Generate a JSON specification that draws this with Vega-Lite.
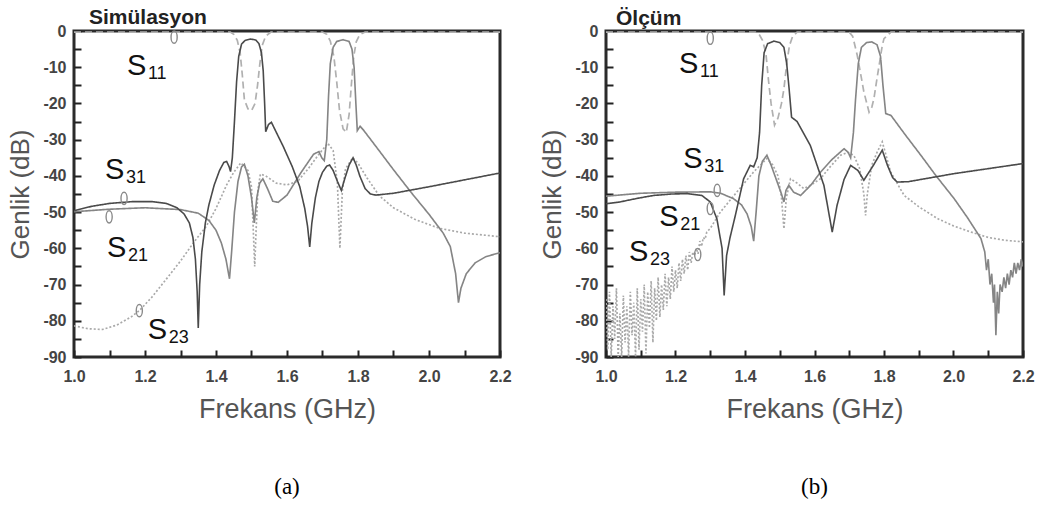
{
"$schema":"https://vega.github.io/schema/vega-lite/v6.json",
"padding":{"left":6,"top":5,"right":0,"bottom":0},
"spacing":25,
"datasets":{
"curves":[
{"p":"a","s":"S11","f":1.0,"db":-0.3},{"p":"a","s":"S11","f":1.44,"db":-0.3},{"p":"a","s":"S11","f":1.45,"db":-0.9},{"p":"a","s":"S11","f":1.46,"db":-2.6},{"p":"a","s":"S11","f":1.468,"db":-6},{"p":"a","s":"S11","f":1.474,"db":-12},{"p":"a","s":"S11","f":1.48,"db":-19},{"p":"a","s":"S11","f":1.49,"db":-21.5},{"p":"a","s":"S11","f":1.5,"db":-22},{"p":"a","s":"S11","f":1.51,"db":-20},{"p":"a","s":"S11","f":1.517,"db":-15},{"p":"a","s":"S11","f":1.523,"db":-9.5},{"p":"a","s":"S11","f":1.53,"db":-4},{"p":"a","s":"S11","f":1.54,"db":-1.4},{"p":"a","s":"S11","f":1.555,"db":-0.3},{"p":"a","s":"S11","f":1.7,"db":-0.3},{"p":"a","s":"S11","f":1.712,"db":-0.9},{"p":"a","s":"S11","f":1.722,"db":-2.8},{"p":"a","s":"S11","f":1.732,"db":-7},{"p":"a","s":"S11","f":1.74,"db":-14},{"p":"a","s":"S11","f":1.748,"db":-22},{"p":"a","s":"S11","f":1.758,"db":-27},{"p":"a","s":"S11","f":1.767,"db":-28},{"p":"a","s":"S11","f":1.775,"db":-23},{"p":"a","s":"S11","f":1.782,"db":-14},{"p":"a","s":"S11","f":1.788,"db":-7},{"p":"a","s":"S11","f":1.795,"db":-3},{"p":"a","s":"S11","f":1.805,"db":-1},{"p":"a","s":"S11","f":1.82,"db":-0.3},{"p":"a","s":"S11","f":2.2,"db":-0.3},
{"p":"a","s":"S23","f":1.0,"db":-81.4},{"p":"a","s":"S23","f":1.04,"db":-82.2},{"p":"a","s":"S23","f":1.08,"db":-82.4},{"p":"a","s":"S23","f":1.12,"db":-81.2},{"p":"a","s":"S23","f":1.16,"db":-79},{"p":"a","s":"S23","f":1.184,"db":-77.2},{"p":"a","s":"S23","f":1.22,"db":-73.4},{"p":"a","s":"S23","f":1.26,"db":-68.5},{"p":"a","s":"S23","f":1.3,"db":-63.5},{"p":"a","s":"S23","f":1.34,"db":-58},{"p":"a","s":"S23","f":1.372,"db":-54},{"p":"a","s":"S23","f":1.4,"db":-49},{"p":"a","s":"S23","f":1.43,"db":-42.5},{"p":"a","s":"S23","f":1.45,"db":-39},{"p":"a","s":"S23","f":1.47,"db":-36.4},{"p":"a","s":"S23","f":1.49,"db":-38.5},{"p":"a","s":"S23","f":1.5,"db":-43},{"p":"a","s":"S23","f":1.505,"db":-55},{"p":"a","s":"S23","f":1.509,"db":-65},{"p":"a","s":"S23","f":1.513,"db":-55},{"p":"a","s":"S23","f":1.518,"db":-44},{"p":"a","s":"S23","f":1.525,"db":-39.5},{"p":"a","s":"S23","f":1.54,"db":-40},{"p":"a","s":"S23","f":1.57,"db":-42},{"p":"a","s":"S23","f":1.6,"db":-42.5},{"p":"a","s":"S23","f":1.63,"db":-41.5},{"p":"a","s":"S23","f":1.66,"db":-38},{"p":"a","s":"S23","f":1.69,"db":-34},{"p":"a","s":"S23","f":1.715,"db":-31},{"p":"a","s":"S23","f":1.73,"db":-33},{"p":"a","s":"S23","f":1.742,"db":-42},{"p":"a","s":"S23","f":1.749,"db":-60},{"p":"a","s":"S23","f":1.756,"db":-44},{"p":"a","s":"S23","f":1.765,"db":-38},{"p":"a","s":"S23","f":1.785,"db":-35},{"p":"a","s":"S23","f":1.8,"db":-36.5},{"p":"a","s":"S23","f":1.825,"db":-40.5},{"p":"a","s":"S23","f":1.86,"db":-45.5},{"p":"a","s":"S23","f":1.9,"db":-48.8},{"p":"a","s":"S23","f":1.96,"db":-52},{"p":"a","s":"S23","f":2.03,"db":-54.5},{"p":"a","s":"S23","f":2.1,"db":-55.8},{"p":"a","s":"S23","f":2.2,"db":-56.8},
{"p":"a","s":"S21","f":1.0,"db":-49.9},{"p":"a","s":"S21","f":1.1,"db":-49.2},{"p":"a","s":"S21","f":1.2,"db":-48.8},{"p":"a","s":"S21","f":1.3,"db":-49.3},{"p":"a","s":"S21","f":1.35,"db":-50.3},{"p":"a","s":"S21","f":1.38,"db":-52.3},{"p":"a","s":"S21","f":1.4,"db":-55},{"p":"a","s":"S21","f":1.415,"db":-58.5},{"p":"a","s":"S21","f":1.428,"db":-63},{"p":"a","s":"S21","f":1.438,"db":-68.4},{"p":"a","s":"S21","f":1.444,"db":-61},{"p":"a","s":"S21","f":1.452,"db":-50},{"p":"a","s":"S21","f":1.462,"db":-41.5},{"p":"a","s":"S21","f":1.472,"db":-37.5},{"p":"a","s":"S21","f":1.48,"db":-36.8},{"p":"a","s":"S21","f":1.49,"db":-40},{"p":"a","s":"S21","f":1.5,"db":-46},{"p":"a","s":"S21","f":1.508,"db":-53},{"p":"a","s":"S21","f":1.515,"db":-46},{"p":"a","s":"S21","f":1.523,"db":-42},{"p":"a","s":"S21","f":1.532,"db":-40.8},{"p":"a","s":"S21","f":1.545,"db":-43.5},{"p":"a","s":"S21","f":1.56,"db":-47},{"p":"a","s":"S21","f":1.575,"db":-47.3},{"p":"a","s":"S21","f":1.6,"db":-45.3},{"p":"a","s":"S21","f":1.64,"db":-39},{"p":"a","s":"S21","f":1.675,"db":-34},{"p":"a","s":"S21","f":1.69,"db":-33.3},{"p":"a","s":"S21","f":1.698,"db":-35},{"p":"a","s":"S21","f":1.705,"db":-35.8},{"p":"a","s":"S21","f":1.712,"db":-30},{"p":"a","s":"S21","f":1.717,"db":-18},{"p":"a","s":"S21","f":1.722,"db":-9},{"p":"a","s":"S21","f":1.73,"db":-4.5},{"p":"a","s":"S21","f":1.74,"db":-2.9},{"p":"a","s":"S21","f":1.758,"db":-2.4},{"p":"a","s":"S21","f":1.775,"db":-2.9},{"p":"a","s":"S21","f":1.783,"db":-5},{"p":"a","s":"S21","f":1.789,"db":-10},{"p":"a","s":"S21","f":1.794,"db":-20},{"p":"a","s":"S21","f":1.798,"db":-27.5},{"p":"a","s":"S21","f":1.806,"db":-26.3},{"p":"a","s":"S21","f":1.815,"db":-27.3},{"p":"a","s":"S21","f":1.85,"db":-31.8},{"p":"a","s":"S21","f":1.9,"db":-38.3},{"p":"a","s":"S21","f":1.95,"db":-44.6},{"p":"a","s":"S21","f":2.0,"db":-50.6},{"p":"a","s":"S21","f":2.04,"db":-55.8},{"p":"a","s":"S21","f":2.06,"db":-59.5},{"p":"a","s":"S21","f":2.075,"db":-67},{"p":"a","s":"S21","f":2.083,"db":-75},{"p":"a","s":"S21","f":2.09,"db":-71},{"p":"a","s":"S21","f":2.105,"db":-67},{"p":"a","s":"S21","f":2.13,"db":-64},{"p":"a","s":"S21","f":2.16,"db":-62.3},{"p":"a","s":"S21","f":2.2,"db":-61.2},
{"p":"a","s":"S31","f":1.0,"db":-49.6},{"p":"a","s":"S31","f":1.05,"db":-48.4},{"p":"a","s":"S31","f":1.1,"db":-47.6},{"p":"a","s":"S31","f":1.165,"db":-47.1},{"p":"a","s":"S31","f":1.22,"db":-47.1},{"p":"a","s":"S31","f":1.26,"db":-47.6},{"p":"a","s":"S31","f":1.29,"db":-48.8},{"p":"a","s":"S31","f":1.31,"db":-50.5},{"p":"a","s":"S31","f":1.325,"db":-53},{"p":"a","s":"S31","f":1.335,"db":-57},{"p":"a","s":"S31","f":1.342,"db":-63},{"p":"a","s":"S31","f":1.347,"db":-72},{"p":"a","s":"S31","f":1.35,"db":-82},{"p":"a","s":"S31","f":1.354,"db":-70},{"p":"a","s":"S31","f":1.36,"db":-61},{"p":"a","s":"S31","f":1.37,"db":-53},{"p":"a","s":"S31","f":1.38,"db":-48},{"p":"a","s":"S31","f":1.395,"db":-42.5},{"p":"a","s":"S31","f":1.41,"db":-38.5},{"p":"a","s":"S31","f":1.422,"db":-36.3},{"p":"a","s":"S31","f":1.43,"db":-36},{"p":"a","s":"S31","f":1.437,"db":-37.5},{"p":"a","s":"S31","f":1.441,"db":-38.8},{"p":"a","s":"S31","f":1.446,"db":-35},{"p":"a","s":"S31","f":1.452,"db":-25},{"p":"a","s":"S31","f":1.458,"db":-14},{"p":"a","s":"S31","f":1.464,"db":-7},{"p":"a","s":"S31","f":1.472,"db":-3.6},{"p":"a","s":"S31","f":1.482,"db":-2.6},{"p":"a","s":"S31","f":1.497,"db":-2.2},{"p":"a","s":"S31","f":1.512,"db":-2.5},{"p":"a","s":"S31","f":1.521,"db":-3.5},{"p":"a","s":"S31","f":1.528,"db":-6},{"p":"a","s":"S31","f":1.533,"db":-11},{"p":"a","s":"S31","f":1.537,"db":-20},{"p":"a","s":"S31","f":1.54,"db":-27.8},{"p":"a","s":"S31","f":1.548,"db":-25.8},{"p":"a","s":"S31","f":1.556,"db":-25.2},{"p":"a","s":"S31","f":1.57,"db":-28},{"p":"a","s":"S31","f":1.59,"db":-32},{"p":"a","s":"S31","f":1.615,"db":-37.5},{"p":"a","s":"S31","f":1.636,"db":-43},{"p":"a","s":"S31","f":1.65,"db":-49},{"p":"a","s":"S31","f":1.658,"db":-54},{"p":"a","s":"S31","f":1.664,"db":-59.6},{"p":"a","s":"S31","f":1.67,"db":-53},{"p":"a","s":"S31","f":1.68,"db":-46},{"p":"a","s":"S31","f":1.69,"db":-41.5},{"p":"a","s":"S31","f":1.7,"db":-39},{"p":"a","s":"S31","f":1.712,"db":-37.3},{"p":"a","s":"S31","f":1.72,"db":-37},{"p":"a","s":"S31","f":1.73,"db":-38.5},{"p":"a","s":"S31","f":1.742,"db":-41.5},{"p":"a","s":"S31","f":1.753,"db":-44},{"p":"a","s":"S31","f":1.762,"db":-41},{"p":"a","s":"S31","f":1.775,"db":-37},{"p":"a","s":"S31","f":1.786,"db":-35},{"p":"a","s":"S31","f":1.795,"db":-37},{"p":"a","s":"S31","f":1.805,"db":-40},{"p":"a","s":"S31","f":1.82,"db":-43.5},{"p":"a","s":"S31","f":1.835,"db":-45},{"p":"a","s":"S31","f":1.85,"db":-45.3},{"p":"a","s":"S31","f":1.9,"db":-44.8},{"p":"a","s":"S31","f":2.0,"db":-43},{"p":"a","s":"S31","f":2.1,"db":-41.1},{"p":"a","s":"S31","f":2.2,"db":-39.2},
{"p":"b","s":"S11","f":1.0,"db":-0.3},{"p":"b","s":"S11","f":1.43,"db":-0.3},{"p":"b","s":"S11","f":1.44,"db":-0.8},{"p":"b","s":"S11","f":1.45,"db":-2.5},{"p":"b","s":"S11","f":1.46,"db":-6},{"p":"b","s":"S11","f":1.468,"db":-14},{"p":"b","s":"S11","f":1.475,"db":-20},{"p":"b","s":"S11","f":1.485,"db":-26},{"p":"b","s":"S11","f":1.495,"db":-24},{"p":"b","s":"S11","f":1.505,"db":-20},{"p":"b","s":"S11","f":1.512,"db":-16},{"p":"b","s":"S11","f":1.52,"db":-9},{"p":"b","s":"S11","f":1.528,"db":-4},{"p":"b","s":"S11","f":1.537,"db":-1.5},{"p":"b","s":"S11","f":1.55,"db":-0.3},{"p":"b","s":"S11","f":1.7,"db":-0.3},{"p":"b","s":"S11","f":1.71,"db":-1.5},{"p":"b","s":"S11","f":1.723,"db":-6.7},{"p":"b","s":"S11","f":1.735,"db":-13},{"p":"b","s":"S11","f":1.742,"db":-16.8},{"p":"b","s":"S11","f":1.757,"db":-22.4},{"p":"b","s":"S11","f":1.765,"db":-21},{"p":"b","s":"S11","f":1.771,"db":-18.7},{"p":"b","s":"S11","f":1.78,"db":-13},{"p":"b","s":"S11","f":1.786,"db":-9.5},{"p":"b","s":"S11","f":1.795,"db":-4},{"p":"b","s":"S11","f":1.8,"db":-2.1},{"p":"b","s":"S11","f":1.82,"db":-0.3},{"p":"b","s":"S11","f":2.2,"db":-0.3},
{"p":"b","s":"S23","f":1.0,"db":-74},{"p":"b","s":"S23","f":1.005,"db":-88},{"p":"b","s":"S23","f":1.01,"db":-72},{"p":"b","s":"S23","f":1.015,"db":-90},{"p":"b","s":"S23","f":1.02,"db":-76},{"p":"b","s":"S23","f":1.025,"db":-85},{"p":"b","s":"S23","f":1.03,"db":-71},{"p":"b","s":"S23","f":1.035,"db":-90},{"p":"b","s":"S23","f":1.04,"db":-78},{"p":"b","s":"S23","f":1.045,"db":-90},{"p":"b","s":"S23","f":1.05,"db":-73},{"p":"b","s":"S23","f":1.055,"db":-86},{"p":"b","s":"S23","f":1.06,"db":-76},{"p":"b","s":"S23","f":1.065,"db":-90},{"p":"b","s":"S23","f":1.07,"db":-72},{"p":"b","s":"S23","f":1.075,"db":-84},{"p":"b","s":"S23","f":1.08,"db":-75},{"p":"b","s":"S23","f":1.085,"db":-90},{"p":"b","s":"S23","f":1.09,"db":-71},{"p":"b","s":"S23","f":1.095,"db":-88},{"p":"b","s":"S23","f":1.1,"db":-74},{"p":"b","s":"S23","f":1.105,"db":-83},{"p":"b","s":"S23","f":1.11,"db":-70},{"p":"b","s":"S23","f":1.115,"db":-89},{"p":"b","s":"S23","f":1.12,"db":-72},{"p":"b","s":"S23","f":1.125,"db":-82},{"p":"b","s":"S23","f":1.13,"db":-69},{"p":"b","s":"S23","f":1.135,"db":-86},{"p":"b","s":"S23","f":1.14,"db":-71},{"p":"b","s":"S23","f":1.145,"db":-80},{"p":"b","s":"S23","f":1.15,"db":-68},{"p":"b","s":"S23","f":1.155,"db":-79},{"p":"b","s":"S23","f":1.16,"db":-70},{"p":"b","s":"S23","f":1.165,"db":-77},{"p":"b","s":"S23","f":1.17,"db":-67},{"p":"b","s":"S23","f":1.175,"db":-76},{"p":"b","s":"S23","f":1.18,"db":-68},{"p":"b","s":"S23","f":1.185,"db":-74},{"p":"b","s":"S23","f":1.19,"db":-65},{"p":"b","s":"S23","f":1.195,"db":-72},{"p":"b","s":"S23","f":1.2,"db":-66},{"p":"b","s":"S23","f":1.205,"db":-71},{"p":"b","s":"S23","f":1.21,"db":-64},{"p":"b","s":"S23","f":1.215,"db":-69},{"p":"b","s":"S23","f":1.22,"db":-63},{"p":"b","s":"S23","f":1.225,"db":-67},{"p":"b","s":"S23","f":1.23,"db":-62},{"p":"b","s":"S23","f":1.235,"db":-66},{"p":"b","s":"S23","f":1.24,"db":-61},{"p":"b","s":"S23","f":1.245,"db":-64},{"p":"b","s":"S23","f":1.25,"db":-61},{"p":"b","s":"S23","f":1.255,"db":-62},{"p":"b","s":"S23","f":1.26,"db":-60},{"p":"b","s":"S23","f":1.265,"db":-61.5},{"p":"b","s":"S23","f":1.27,"db":-58},{"p":"b","s":"S23","f":1.275,"db":-59.5},{"p":"b","s":"S23","f":1.28,"db":-57},{"p":"b","s":"S23","f":1.285,"db":-57.5},{"p":"b","s":"S23","f":1.29,"db":-55.5},{"p":"b","s":"S23","f":1.3,"db":-54.5},{"p":"b","s":"S23","f":1.329,"db":-50},{"p":"b","s":"S23","f":1.377,"db":-44.4},{"p":"b","s":"S23","f":1.425,"db":-38.9},{"p":"b","s":"S23","f":1.463,"db":-35.2},{"p":"b","s":"S23","f":1.48,"db":-37},{"p":"b","s":"S23","f":1.495,"db":-40},{"p":"b","s":"S23","f":1.505,"db":-46},{"p":"b","s":"S23","f":1.512,"db":-54.6},{"p":"b","s":"S23","f":1.519,"db":-46},{"p":"b","s":"S23","f":1.531,"db":-40.8},{"p":"b","s":"S23","f":1.55,"db":-42},{"p":"b","s":"S23","f":1.569,"db":-43.5},{"p":"b","s":"S23","f":1.59,"db":-42.5},{"p":"b","s":"S23","f":1.617,"db":-40.8},{"p":"b","s":"S23","f":1.645,"db":-37.5},{"p":"b","s":"S23","f":1.675,"db":-34.3},{"p":"b","s":"S23","f":1.695,"db":-33.5},{"p":"b","s":"S23","f":1.713,"db":-34.3},{"p":"b","s":"S23","f":1.73,"db":-38},{"p":"b","s":"S23","f":1.742,"db":-45},{"p":"b","s":"S23","f":1.747,"db":-50.9},{"p":"b","s":"S23","f":1.752,"db":-45},{"p":"b","s":"S23","f":1.765,"db":-37},{"p":"b","s":"S23","f":1.78,"db":-33.5},{"p":"b","s":"S23","f":1.795,"db":-30.6},{"p":"b","s":"S23","f":1.805,"db":-34},{"p":"b","s":"S23","f":1.819,"db":-38.9},{"p":"b","s":"S23","f":1.858,"db":-45.4},{"p":"b","s":"S23","f":1.9,"db":-48.5},{"p":"b","s":"S23","f":1.954,"db":-51.8},{"p":"b","s":"S23","f":2.0,"db":-53.8},{"p":"b","s":"S23","f":2.05,"db":-55.5},{"p":"b","s":"S23","f":2.1,"db":-57},{"p":"b","s":"S23","f":2.15,"db":-57.8},{"p":"b","s":"S23","f":2.2,"db":-58.2},
{"p":"b","s":"S21","f":1.0,"db":-45.6},{"p":"b","s":"S21","f":1.05,"db":-45.2},{"p":"b","s":"S21","f":1.1,"db":-44.8},{"p":"b","s":"S21","f":1.2,"db":-44.5},{"p":"b","s":"S21","f":1.3,"db":-44.4},{"p":"b","s":"S21","f":1.33,"db":-44.8},{"p":"b","s":"S21","f":1.367,"db":-46.3},{"p":"b","s":"S21","f":1.39,"db":-48},{"p":"b","s":"S21","f":1.406,"db":-50.5},{"p":"b","s":"S21","f":1.418,"db":-54},{"p":"b","s":"S21","f":1.425,"db":-58},{"p":"b","s":"S21","f":1.432,"db":-50},{"p":"b","s":"S21","f":1.44,"db":-40},{"p":"b","s":"S21","f":1.45,"db":-36},{"p":"b","s":"S21","f":1.463,"db":-34.3},{"p":"b","s":"S21","f":1.475,"db":-37},{"p":"b","s":"S21","f":1.49,"db":-41},{"p":"b","s":"S21","f":1.505,"db":-45},{"p":"b","s":"S21","f":1.512,"db":-47.2},{"p":"b","s":"S21","f":1.518,"db":-44},{"p":"b","s":"S21","f":1.526,"db":-42.6},{"p":"b","s":"S21","f":1.54,"db":-44.5},{"p":"b","s":"S21","f":1.56,"db":-45.4},{"p":"b","s":"S21","f":1.59,"db":-42.5},{"p":"b","s":"S21","f":1.617,"db":-39},{"p":"b","s":"S21","f":1.65,"db":-35.5},{"p":"b","s":"S21","f":1.685,"db":-32.5},{"p":"b","s":"S21","f":1.697,"db":-33.5},{"p":"b","s":"S21","f":1.704,"db":-35},{"p":"b","s":"S21","f":1.712,"db":-28},{"p":"b","s":"S21","f":1.718,"db":-19},{"p":"b","s":"S21","f":1.726,"db":-9},{"p":"b","s":"S21","f":1.735,"db":-4.5},{"p":"b","s":"S21","f":1.75,"db":-3.2},{"p":"b","s":"S21","f":1.765,"db":-3},{"p":"b","s":"S21","f":1.78,"db":-3.8},{"p":"b","s":"S21","f":1.79,"db":-7},{"p":"b","s":"S21","f":1.797,"db":-15},{"p":"b","s":"S21","f":1.805,"db":-22.8},{"p":"b","s":"S21","f":1.82,"db":-23.3},{"p":"b","s":"S21","f":1.86,"db":-28.5},{"p":"b","s":"S21","f":1.906,"db":-34.3},{"p":"b","s":"S21","f":1.95,"db":-40},{"p":"b","s":"S21","f":2.002,"db":-46.3},{"p":"b","s":"S21","f":2.04,"db":-51.5},{"p":"b","s":"S21","f":2.079,"db":-57.3},{"p":"b","s":"S21","f":2.09,"db":-61},{"p":"b","s":"S21","f":2.095,"db":-66},{"p":"b","s":"S21","f":2.1,"db":-63},{"p":"b","s":"S21","f":2.105,"db":-70},{"p":"b","s":"S21","f":2.11,"db":-67},{"p":"b","s":"S21","f":2.115,"db":-75},{"p":"b","s":"S21","f":2.118,"db":-70},{"p":"b","s":"S21","f":2.122,"db":-84},{"p":"b","s":"S21","f":2.126,"db":-72},{"p":"b","s":"S21","f":2.13,"db":-78},{"p":"b","s":"S21","f":2.134,"db":-70},{"p":"b","s":"S21","f":2.14,"db":-72},{"p":"b","s":"S21","f":2.145,"db":-68},{"p":"b","s":"S21","f":2.15,"db":-71},{"p":"b","s":"S21","f":2.155,"db":-67},{"p":"b","s":"S21","f":2.16,"db":-70},{"p":"b","s":"S21","f":2.165,"db":-66},{"p":"b","s":"S21","f":2.17,"db":-68},{"p":"b","s":"S21","f":2.175,"db":-64},{"p":"b","s":"S21","f":2.18,"db":-67},{"p":"b","s":"S21","f":2.185,"db":-64},{"p":"b","s":"S21","f":2.19,"db":-66},{"p":"b","s":"S21","f":2.195,"db":-63},{"p":"b","s":"S21","f":2.2,"db":-65},
{"p":"b","s":"S31","f":1.0,"db":-47.7},{"p":"b","s":"S31","f":1.04,"db":-47.2},{"p":"b","s":"S31","f":1.09,"db":-46.2},{"p":"b","s":"S31","f":1.137,"db":-45.4},{"p":"b","s":"S31","f":1.19,"db":-45},{"p":"b","s":"S31","f":1.233,"db":-44.9},{"p":"b","s":"S31","f":1.276,"db":-45.4},{"p":"b","s":"S31","f":1.3,"db":-47.2},{"p":"b","s":"S31","f":1.319,"db":-51.8},{"p":"b","s":"S31","f":1.334,"db":-60},{"p":"b","s":"S31","f":1.34,"db":-73},{"p":"b","s":"S31","f":1.347,"db":-62},{"p":"b","s":"S31","f":1.357,"db":-57},{"p":"b","s":"S31","f":1.372,"db":-51},{"p":"b","s":"S31","f":1.396,"db":-40.8},{"p":"b","s":"S31","f":1.415,"db":-37.1},{"p":"b","s":"S31","f":1.425,"db":-37.5},{"p":"b","s":"S31","f":1.435,"db":-35},{"p":"b","s":"S31","f":1.442,"db":-28},{"p":"b","s":"S31","f":1.448,"db":-15},{"p":"b","s":"S31","f":1.455,"db":-6},{"p":"b","s":"S31","f":1.465,"db":-3.5},{"p":"b","s":"S31","f":1.483,"db":-2.8},{"p":"b","s":"S31","f":1.5,"db":-3.2},{"p":"b","s":"S31","f":1.512,"db":-4.5},{"p":"b","s":"S31","f":1.52,"db":-9},{"p":"b","s":"S31","f":1.527,"db":-16},{"p":"b","s":"S31","f":1.534,"db":-23.8},{"p":"b","s":"S31","f":1.55,"db":-25},{"p":"b","s":"S31","f":1.588,"db":-31.6},{"p":"b","s":"S31","f":1.627,"db":-42.6},{"p":"b","s":"S31","f":1.651,"db":-55.5},{"p":"b","s":"S31","f":1.665,"db":-48.1},{"p":"b","s":"S31","f":1.685,"db":-41},{"p":"b","s":"S31","f":1.704,"db":-37.1},{"p":"b","s":"S31","f":1.725,"db":-38.5},{"p":"b","s":"S31","f":1.742,"db":-41.2},{"p":"b","s":"S31","f":1.77,"db":-37},{"p":"b","s":"S31","f":1.795,"db":-32.9},{"p":"b","s":"S31","f":1.81,"db":-37.1},{"p":"b","s":"S31","f":1.825,"db":-40.5},{"p":"b","s":"S31","f":1.838,"db":-41.7},{"p":"b","s":"S31","f":1.87,"db":-41.6},{"p":"b","s":"S31","f":2.0,"db":-39.4},{"p":"b","s":"S31","f":2.2,"db":-36.6}
],
"markers":[
{"p":"a","s":"S11","f":1.282,"db":-1.7},{"p":"a","s":"S31","f":1.141,"db":-46.2},{"p":"a","s":"S21","f":1.099,"db":-51.3},{"p":"a","s":"S23","f":1.184,"db":-77.2},
{"p":"b","s":"S11","f":1.3,"db":-2},{"p":"b","s":"S31","f":1.32,"db":-44},{"p":"b","s":"S21","f":1.3,"db":-49},{"p":"b","s":"S23","f":1.264,"db":-61.7}
],
"labels":[
{"p":"a","main":"S","sub":"11","f":1.149,"db":-12.1},{"p":"a","main":"S","sub":"31","f":1.087,"db":-40.9},{"p":"a","main":"S","sub":"21","f":1.093,"db":-62.4},{"p":"a","main":"S","sub":"23","f":1.208,"db":-85},
{"p":"b","main":"S","sub":"11","f":1.21,"db":-11.6},{"p":"b","main":"S","sub":"31","f":1.222,"db":-37.9},{"p":"b","main":"S","sub":"21","f":1.153,"db":-53.7},{"p":"b","main":"S","sub":"23","f":1.066,"db":-63.4}
],
"heads":[
{"p":"a","t":"Simülasyon","f":1.0,"db":0},{"p":"b","t":"Ölçüm","f":1.0,"db":0}
]
},
"hconcat":[
{
"width":426,"height":326,
"title":{"text":"(a)","orient":"bottom","frame":"group","anchor":"middle","font":"Liberation Serif","fontSize":23,"fontWeight":"normal","color":"#000","offset":54},
"encoding":{
"x":{"field":"f","type":"quantitative","scale":{"domain":[1,2.2],"nice":false,"zero":false},"axis":{"values":[1,1.1,1.2,1.3,1.4,1.5,1.6,1.7,1.8,1.9,2,2.1,2.2],"labelExpr":"round(datum.value*10)%2==0 ? format(datum.value,'.1f') : ''","title":"Frekans (GHz)"}},
"y":{"field":"db","type":"quantitative","scale":{"domain":[-90,0],"nice":false,"zero":false},"axis":{"values":[-90,-85,-80,-75,-70,-65,-60,-55,-50,-45,-40,-35,-30,-25,-20,-15,-10,-5,0],"labelExpr":"datum.value%10==0 ? toString(datum.value) : ''","title":"Genlik (dB)"}}
},
"layer":[
{"data":{"name":"curves"},"transform":[{"filter":"datum.p=='a'"}],"mark":{"type":"line","clip":true},
"encoding":{"color":{"field":"s","type":"nominal","scale":{"domain":["S11","S23","S21","S31"],"range":["#b0b0b0","#a9a9a9","#858585","#4a4a4a"]},"legend":null},
"strokeDash":{"field":"s","type":"nominal","scale":{"domain":["S11","S23","S21","S31"],"range":[[7,4],[2,2],[1,0],[1,0]]},"legend":null},
"strokeWidth":{"field":"s","type":"ordinal","scale":{"domain":["S11","S23","S21","S31"],"range":[1.7,1.6,1.9,2.8]},"legend":null}}},
{"data":{"name":"markers"},"transform":[{"filter":"datum.p=='a'"}],"mark":{"type":"point","shape":"M -0.5 0 A 0.5 1 0 1 1 0.5 0 A 0.5 1 0 1 1 -0.5 0 Z","size":150,"filled":false,"stroke":"#8a8a8a","strokeWidth":1.4,"opacity":1}},
{"data":{"name":"labels"},"transform":[{"filter":"datum.p=='a'"}],"mark":{"type":"text","align":"left","baseline":"alphabetic","fontSize":29,"color":"#111"},"encoding":{"text":{"field":"main"}}},
{"data":{"name":"labels"},"transform":[{"filter":"datum.p=='a'"}],"mark":{"type":"text","align":"left","baseline":"alphabetic","fontSize":18,"dx":21,"dy":4,"color":"#111"},"encoding":{"text":{"field":"sub"}}},
{"data":{"name":"heads"},"transform":[{"filter":"datum.p=='a'"}],"mark":{"type":"text","align":"left","baseline":"alphabetic","fontSize":21,"fontWeight":"bold","dx":15,"dy":-7,"color":"#222"},"encoding":{"text":{"field":"t"}}}
]
},
{
"width":417,"height":326,
"title":{"text":"(b)","orient":"bottom","frame":"group","anchor":"middle","font":"Liberation Serif","fontSize":23,"fontWeight":"normal","color":"#000","offset":54},
"encoding":{
"x":{"field":"f","type":"quantitative","scale":{"domain":[1,2.2],"nice":false,"zero":false},"axis":{"values":[1,1.1,1.2,1.3,1.4,1.5,1.6,1.7,1.8,1.9,2,2.1,2.2],"labelExpr":"round(datum.value*10)%2==0 ? format(datum.value,'.1f') : ''","title":"Frekans (GHz)"}},
"y":{"field":"db","type":"quantitative","scale":{"domain":[-90,0],"nice":false,"zero":false},"axis":{"values":[-90,-85,-80,-75,-70,-65,-60,-55,-50,-45,-40,-35,-30,-25,-20,-15,-10,-5,0],"labelExpr":"datum.value%10==0 ? toString(datum.value) : ''","title":"Genlik (dB)"}}
},
"layer":[
{"data":{"name":"curves"},"transform":[{"filter":"datum.p=='b'"}],"mark":{"type":"line","clip":true},
"encoding":{"color":{"field":"s","type":"nominal","scale":{"domain":["S11","S23","S21","S31"],"range":["#b0b0b0","#a9a9a9","#858585","#4a4a4a"]},"legend":null},
"strokeDash":{"field":"s","type":"nominal","scale":{"domain":["S11","S23","S21","S31"],"range":[[7,4],[2,2],[1,0],[1,0]]},"legend":null},
"strokeWidth":{"field":"s","type":"ordinal","scale":{"domain":["S11","S23","S21","S31"],"range":[1.7,1.6,1.9,2.8]},"legend":null}}},
{"data":{"name":"markers"},"transform":[{"filter":"datum.p=='b'"}],"mark":{"type":"point","shape":"M -0.5 0 A 0.5 1 0 1 1 0.5 0 A 0.5 1 0 1 1 -0.5 0 Z","size":150,"filled":false,"stroke":"#8a8a8a","strokeWidth":1.4,"opacity":1}},
{"data":{"name":"labels"},"transform":[{"filter":"datum.p=='b'"}],"mark":{"type":"text","align":"left","baseline":"alphabetic","fontSize":29,"color":"#111"},"encoding":{"text":{"field":"main"}}},
{"data":{"name":"labels"},"transform":[{"filter":"datum.p=='b'"}],"mark":{"type":"text","align":"left","baseline":"alphabetic","fontSize":18,"dx":21,"dy":4,"color":"#111"},"encoding":{"text":{"field":"sub"}}},
{"data":{"name":"heads"},"transform":[{"filter":"datum.p=='b'"}],"mark":{"type":"text","align":"left","baseline":"alphabetic","fontSize":21,"fontWeight":"bold","dx":10,"dy":-6,"color":"#222"},"encoding":{"text":{"field":"t"}}}
]
}
],
"config":{
"font":"Liberation Sans",
"background":"white",
"view":{"stroke":"#2b2b2b","strokeWidth":3},
"axis":{"grid":false,"domain":false,"ticks":true,"tickColor":"#222","tickWidth":2,"tickSize":-7,"labelFontSize":16,"labelFontWeight":"bold","labelColor":"#444","titleFontWeight":"normal","titleColor":"#555"},
"axisX":{"labelFlush":false,"labelPadding":18,"titlePadding":12,"titleFontSize":27},
"axisY":{"labelPadding":15,"titlePadding":9,"titleFontSize":26}
}
}
